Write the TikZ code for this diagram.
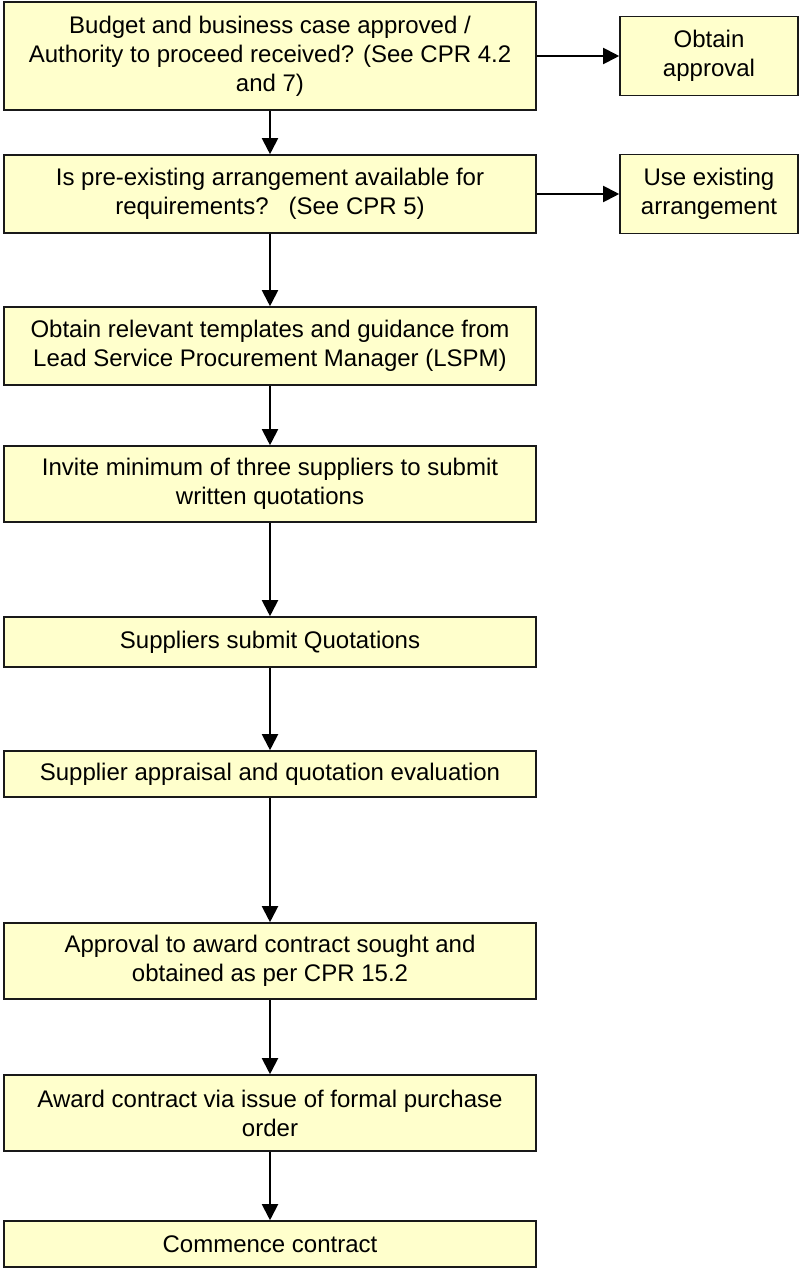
\documentclass[tikz,border=0pt]{standalone}
\usepackage{fontspec}
\setmainfont{Liberation Sans}
\usetikzlibrary{arrows.meta,positioning}
\definecolor{boxYellow}{RGB}{255,255,204}
\definecolor{boxEdge}{RGB}{25,25,25}

\begin{document}
\begin{tikzpicture}[x=0.5pt,y=-0.5pt,
  stepbox/.style={draw=boxEdge,fill=boxYellow,line width=0.8pt,align=center,
    inner sep=0pt,minimum width=266pt,font=\fontsize{12}{14.5}\selectfont},
  sidebox/.style={stepbox,minimum width=89pt,minimum height=39.5pt},
  flow/.style={draw=black,line width=1pt,-{Triangle[length=8pt,width=8pt]}}]
  \useasboundingbox (0,0) rectangle (800,1268);
  % main column
  \node[stepbox,minimum height=54pt] (budget) at (270,56)
    {Budget and business case approved /\\Authority to proceed received? (See CPR 4.2\\and 7)};
  \node[stepbox,minimum height=39pt] (existing) at (270,194)
    {Is pre-existing arrangement available for\\requirements?\ \ \ (See CPR 5)};
  \node[stepbox,minimum height=39pt] (templates) at (270,346)
    {Obtain relevant templates and guidance from\\Lead Service Procurement Manager (LSPM)};
  \node[stepbox,minimum height=38pt] (invite) at (270,484)
    {Invite minimum of three suppliers to submit\\written quotations};
  \node[stepbox,minimum height=25pt] (submit) at (270,642)
    {Suppliers submit Quotations};
  \node[stepbox,minimum height=23pt] (appraisal) at (270,774)
    {Supplier appraisal and quotation evaluation};
  \node[stepbox,minimum height=38pt] (awardok) at (270,961)
    {Approval to award contract sought and\\obtained as per CPR 15.2};
  \node[stepbox,minimum height=38pt] (order) at (270,1113)
    {Award contract via issue of formal purchase\\order};
  \node[stepbox,minimum height=23pt] (commence) at (270,1244)
    {Commence contract};
  % side boxes
  \node[sidebox] (approval) at (709,56) {Obtain\\approval};
  \node[sidebox] (useexist) at (709,194) {Use existing\\arrangement};
  % connectors
  \draw[flow] (budget) -- (approval);
  \draw[flow] (existing) -- (useexist);
  \draw[flow] (budget) -- (existing);
  \draw[flow] (existing) -- (templates);
  \draw[flow] (templates) -- (invite);
  \draw[flow] (invite) -- (submit);
  \draw[flow] (submit) -- (appraisal);
  \draw[flow] (appraisal) -- (awardok);
  \draw[flow] (awardok) -- (order);
  \draw[flow] (order) -- (commence);
\end{tikzpicture}
\end{document}
